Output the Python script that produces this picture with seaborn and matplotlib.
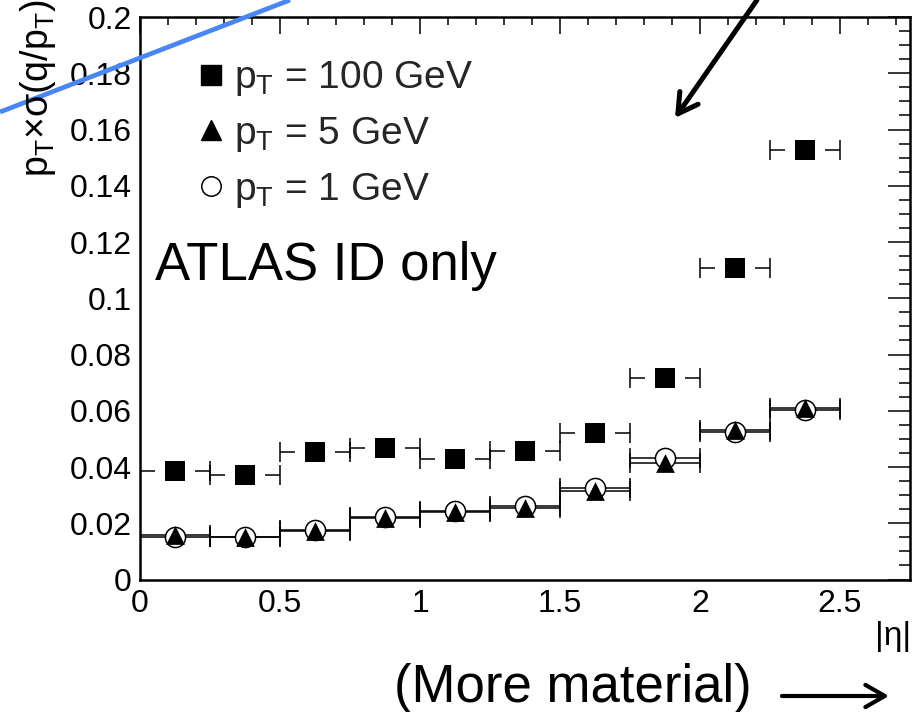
import numpy as np
import pandas as pd
import matplotlib
matplotlib.use("Agg")
import matplotlib.pyplot as plt
from matplotlib.lines import Line2D
from matplotlib.patches import FancyArrowPatch
from matplotlib.ticker import MultipleLocator
import seaborn as sns

# |eta| bins and relative momentum resolution per bin
eta_edges = [0.0, 0.25, 0.5, 0.75, 1.0, 1.25, 1.5, 1.75, 2.0, 2.25, 2.5]
res_pt100 = [0.0385, 0.0373, 0.0454, 0.0466, 0.0427, 0.0456, 0.0520, 0.0716, 0.1108, 0.1528]
res_pt5 = [0.0157, 0.0152, 0.0172, 0.0218, 0.0240, 0.0255, 0.0315, 0.0413, 0.0531, 0.0611]
res_pt1 = [0.0150, 0.0150, 0.0177, 0.0222, 0.0245, 0.0260, 0.0326, 0.0433, 0.0525, 0.0602]
series_labels = [r"p$_{T}$ = 100 GeV", r"p$_{T}$ = 5 GeV", r"p$_{T}$ = 1 GeV"]
x_ticks = [0, 0.5, 1, 1.5, 2, 2.5]
y_ticks = [0, 0.02, 0.04, 0.06, 0.08, 0.1, 0.12, 0.14, 0.16, 0.18, 0.2]

sns.set_theme(style="white")
plt.rcParams["font.family"] = ["Liberation Sans", "DejaVu Sans"]
plt.rcParams["mathtext.default"] = "regular"

edges = np.array(eta_edges)
centres = 0.5 * (edges[:-1] + edges[1:])
half = 0.5 * np.diff(edges)
df = pd.DataFrame({"eta": centres, "pt100": res_pt100, "pt5": res_pt5, "pt1": res_pt1})

W, H = 922, 712
fig = plt.figure(figsize=(W / 100, H / 100), dpi=100)
ax = fig.add_axes([140 / W, 1 - 579.5 / H, 770 / W, 562.5 / H])
ax.set_axisbelow(False)

bar_kw = dict(fmt="none", ecolor="black", elinewidth=1.1, capsize=7, capthick=1.1)
ax.errorbar(df["eta"], df["pt100"], xerr=half, zorder=1.5, **bar_kw)
ax.errorbar(df["eta"], df["pt1"], xerr=half, zorder=1.5, **bar_kw)
ax.errorbar(df["eta"], df["pt5"], xerr=half, zorder=1.5, **bar_kw)

# white backing keeps the error bars clear of the square markers
sns.scatterplot(data=df, x="eta", y="pt100", marker="s", s=29 ** 2, color="white",
                linewidth=0, ax=ax, zorder=2, legend=False)
sns.scatterplot(data=df, x="eta", y="pt100", marker="s", s=15 ** 2, color="black",
                linewidth=0, ax=ax, zorder=3, legend=False)
sns.scatterplot(data=df, x="eta", y="pt1", marker="o", s=14.5 ** 2, color="white",
                edgecolor="black", linewidth=1.1, ax=ax, zorder=3, legend=False)
sns.scatterplot(data=df, x="eta", y="pt5", marker="^", s=13.5 ** 2, color="black",
                linewidth=0, ax=ax, zorder=3.5, legend=False)

ax.set_xlim(0, 2.75)
ax.set_ylim(0, 0.2)
ax.set_xticks(x_ticks)
ax.set_xticklabels([f"{v:g}" for v in x_ticks])
ax.set_yticks(y_ticks)
ax.set_yticklabels([f"{v:g}" for v in y_ticks])
ax.xaxis.set_minor_locator(MultipleLocator(0.1))
ax.yaxis.set_minor_locator(MultipleLocator(0.005))
ax.set_xlabel("")
ax.set_ylabel("")
for sp in ax.spines.values():
    sp.set_visible(True)
    sp.set_linewidth(1.8)
    sp.set_color("black")
ax.tick_params(axis="both", which="both", direction="in", top=True, right=True,
               width=1.1, color="black", labelsize=23, labelcolor="black")
ax.tick_params(axis="x", which="major", length=12.2, pad=7)
ax.tick_params(axis="x", which="minor", length=6)
ax.tick_params(axis="y", which="major", length=16.2, pad=6)
ax.tick_params(axis="y", which="minor", length=8.2)

handles = [
    Line2D([], [], marker="s", ls="none", ms=15, color="black"),
    Line2D([], [], marker="^", ls="none", ms=14, color="black"),
    Line2D([], [], marker="o", ls="none", ms=14, mfc="white", mec="black", mew=1.1),
]
ax.legend(handles, series_labels, loc="upper left", bbox_to_anchor=(0.077, 0.925),
          frameon=False, fontsize=28, handlelength=0.6, handletextpad=0.3,
          labelspacing=0.43, borderaxespad=0, borderpad=0)

ax.text((155 - 140) / 770, (579.5 - 280) / 562.5, "ATLAS ID only", transform=ax.transAxes,
        fontsize=38, ha="left", va="baseline", color="black")

fig.text(38 / W, 1 - 177 / H, r"p$_{T}$×σ(q/p$_{T}$)", rotation=90, ha="center",
         va="bottom", fontsize=27, color="black")
fig.text(911 / W, 1 - 637 / H, "|η|", ha="right", va="center", fontsize=24, color="black")
fig.text(394 / W, 1 - 702 / H, "(More material)", ha="left", va="baseline",
         fontsize=38, color="black")

# annotation strokes across the top of the figure
fig.add_artist(Line2D([0 / W, 290 / W], [1 - 112 / H, 1.0], transform=fig.transFigure,
                      color="#4a86f2", lw=3.4, solid_capstyle="butt"))
fig.add_artist(FancyArrowPatch(
    (757 / W, 1.0), (675 / W, 1 - 118 / H), transform=fig.transFigure,
    arrowstyle="->,head_length=14,head_width=8", lw=3.6, color="black",
    mutation_scale=1, shrinkA=0, shrinkB=0))
fig.add_artist(FancyArrowPatch(
    (782 / W, 1 - 696 / H), (889 / W, 1 - 696 / H), transform=fig.transFigure,
    arrowstyle="->,head_length=14,head_width=8", lw=3.0, color="black",
    mutation_scale=1, shrinkA=0, shrinkB=0))

fig.savefig("out.png", dpi=100, facecolor="white")
